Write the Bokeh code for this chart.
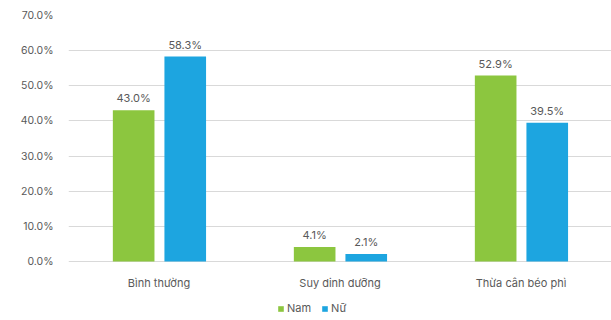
from bokeh.plotting import figure
from bokeh.models import ColumnDataSource, Legend, LegendItem, LabelSet, FixedTicker, CustomJSTickFormatter
from bokeh.core.properties import value
from bokeh.transform import dodge
from bokeh.embed import file_html
from bokeh.resources import INLINE

categories = ["Bình thường", "Suy dinh dưỡng", "Thừa cân béo phì"]
nam = [43.0, 4.1, 52.9]
nu = [58.3, 2.1, 39.5]
series_names = ["Nam", "Nữ"]
colors = ["#8CC63F", "#1DA5E0"]
y_ticks = [0, 10, 20, 30, 40, 50, 60, 70]

src = ColumnDataSource(dict(
    cat=categories,
    base=[0] * len(categories),
    nam=nam,
    nu=nu,
    nam_lbl=[f"{v:.1f}%" for v in nam],
    nu_lbl=[f"{v:.1f}%" for v in nu],
))

FONT = "Inter"
TXT = "#595959"

# frame spans y=15..320; value 0 sits at y=261
p = figure(x_range=categories, y_range=(-16.8, 70), width=611, height=320,
           output_backend="svg", toolbar_location=None, x_axis_location=None,
           min_border_left=68, min_border_right=0, min_border_top=15, min_border_bottom=0)

r1 = p.vbar(x=dodge("cat", -0.14, range=p.x_range), top="nam", bottom="base", width=0.23,
            source=src, color=colors[0], line_color=None)
r2 = p.vbar(x=dodge("cat", 0.145, range=p.x_range), top="nu", bottom="base", width=0.23,
            source=src, color=colors[1], line_color=None)

for col, lbl, off in [("nam", "nam_lbl", -0.14), ("nu", "nu_lbl", 0.145)]:
    ls = LabelSet(x=dodge("cat", off, range=p.x_range), y=col, text=lbl, source=src,
                  text_align="center", text_baseline="bottom", y_offset=5,
                  text_font=value(FONT), text_font_size=value("11px"), text_color=value(TXT))
    p.add_layout(ls)

# category labels under the bars
p.text(x="cat", y="base", text="cat", source=src, text_align="center", text_baseline="middle",
       y_offset=22, text_font=value(FONT), text_font_size=value("11px"), text_color=TXT)

p.yaxis.ticker = FixedTicker(ticks=y_ticks)
p.yaxis.formatter = CustomJSTickFormatter(code="return tick.toFixed(1) + '%';")
p.yaxis.axis_line_color = None
p.yaxis.major_tick_line_color = None
p.yaxis.minor_tick_line_color = None
p.yaxis.major_label_text_font = FONT
p.yaxis.major_label_text_font_size = "10.5px"
p.yaxis.major_label_text_color = TXT
p.yaxis.major_label_standoff = 9

p.xgrid.grid_line_color = None
p.ygrid.grid_line_color = "#D9D9D9"
p.outline_line_color = None

legend = Legend(items=[LegendItem(label=series_names[0], renderers=[r1]),
                       LegendItem(label=series_names[1], renderers=[r2])],
                orientation="horizontal", location=(209, 5),
                label_text_font=FONT, label_text_font_size="11px", label_text_color=TXT,
                glyph_width=7, glyph_height=7, label_standoff=3, spacing=10,
                border_line_color=None, background_fill_alpha=0,
                padding=2, margin=0, label_height=12)
p.add_layout(legend)

open("out.html", "w").write(file_html(p, INLINE))
